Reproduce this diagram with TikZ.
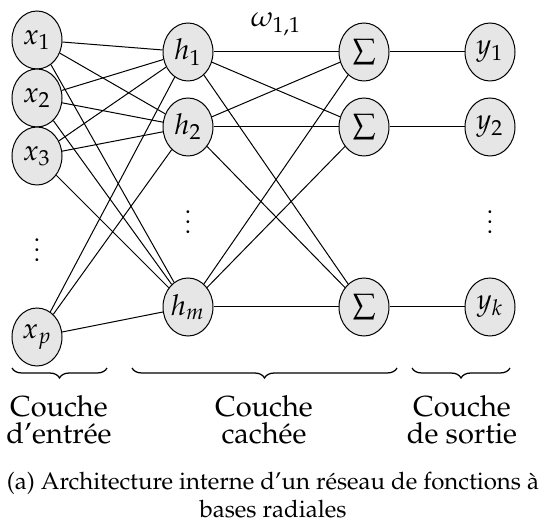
\documentclass[tikz,border=0pt]{standalone}
\usepackage[T1]{fontenc}
\usepackage{mathpazo}
\usepackage{amsmath}
\usepackage{tikz}
\usetikzlibrary{shapes.geometric}
\usetikzlibrary{decorations.pathreplacing}
\definecolor{nodecolor}{HTML}{E6E6E6}
\tikzset{neuron/.style={ellipse,draw=black,fill=nodecolor,line width=0.4pt,
    minimum width=20pt,minimum height=23.2pt,inner sep=0pt,
    font=\fontsize{11.5}{13}\selectfont},
  layerlabel/.style={align=center,font=\fontsize{11.6}{10.8}\selectfont},
  layerbrace/.style={decorate,decoration={brace,mirror,amplitude=4pt},line width=0.5pt}}

\begin{document}
\begin{tikzpicture}[x=0.4pt,y=0.4pt]
  \useasboundingbox (0,0) rectangle (546,526);
  %% couche d'entree
  \node[neuron] (in1) at (37,486) {$x_1$};
  \node[neuron] (in2) at (37,428) {$x_2$};
  \node[neuron] (in3) at (37,370) {$x_3$};
  \node[neuron] (inp) at (37,189) {$x_p$};
  \node (indots) at (37,283) {$\vdots$};
  %% couche cachee
  \node[neuron] (hid1) at (188,474) {$h_1$};
  \node[neuron] (hid2) at (188,399) {$h_2$};
  \node[neuron] (hidm) at (188,219) {$h_m$};
  \node (hiddots) at (188,311) {$\vdots$};
  \node[neuron] (sum1) at (364,474) {$\sum$};
  \node[neuron] (sum2) at (364,399) {$\sum$};
  \node[neuron] (summ) at (364,219) {$\sum$};
  %% couche de sortie
  \node[neuron] (out1) at (490,474) {$y_1$};
  \node[neuron] (out2) at (490,399) {$y_2$};
  \node[neuron] (outk) at (490,219) {$y_k$};
  \node (outdots) at (490,311) {$\vdots$};
  %% connexions
  \foreach \i in {1,2,3,p}
    \foreach \j in {1,2,m}
      \draw[line width=0.4pt] (in\i) -- (hid\j);
  \foreach \i in {1,2,m}
    \foreach \j in {1,2,m}
      \draw[line width=0.4pt] (hid\i) -- (sum\j);
  \foreach \i/\j in {1/1,2/2,m/k}
    \draw[line width=0.4pt] (sum\i) -- (out\j);
  \path (hid1) -- (sum1) node[midway,above=3pt,font=\fontsize{11.5}{13}\selectfont] (weight) {$\omega_{1,1}$};
  %% accolades
  \coordinate (b1) at (12,158);  \coordinate (b2) at (107,158);
  \coordinate (b3) at (132,158); \coordinate (b4) at (397,158);
  \coordinate (b5) at (412,158); \coordinate (b6) at (510,158);
  \draw[layerbrace] (b1) -- (b2);
  \draw[layerbrace] (b3) -- (b4);
  \draw[layerbrace] (b5) -- (b6);
  \node[layerlabel] (lab1) at (59,106) {Couche\\d'entr\'ee};
  \node[layerlabel] (lab2) at (264,106) {Couche\\cach\'ee};
  \node[layerlabel] (lab3) at (462,106) {Couche\\de sortie};
  \node[align=center,font=\fontsize{9.6}{11.2}\selectfont] (caption) at (273,31)
    {(a) Architecture interne d'un r\'eseau de fonctions \`a\\bases radiales};
\end{tikzpicture}
\end{document}
